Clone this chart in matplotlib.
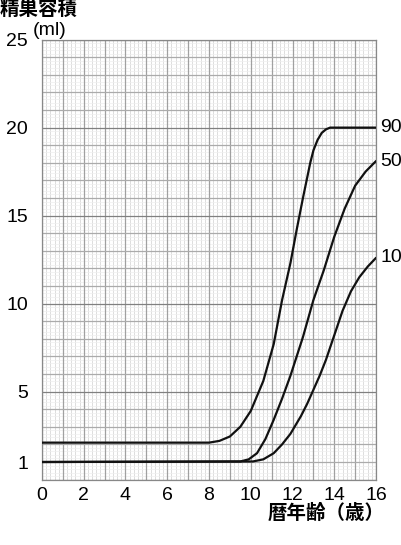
import numpy as np
import matplotlib
matplotlib.use("Agg")
import matplotlib.pyplot as plt

# percentile curves (age in years, volume in ml)
p90_age = [0, 8.0, 8.5, 9.0, 9.5, 10.0, 10.6, 11.1, 11.5, 11.9, 12.2, 12.5, 12.85, 13.0, 13.2, 13.4, 13.6, 13.8, 14.1, 16]
p90_vol = [2.1, 2.1, 2.2, 2.45, 3.0, 3.9, 5.6, 7.7, 10.2, 12.3, 14.2, 16.0, 18.0, 18.7, 19.3, 19.7, 19.9, 20.0, 20.0, 20.0]

p50_age = [0, 9.5, 9.9, 10.3, 10.7, 11.1, 11.5, 11.9, 12.5, 13.0, 13.5, 14.0, 14.5, 15.0, 15.5, 16]
p50_vol = [1.0, 1.03, 1.15, 1.5, 2.3, 3.4, 4.6, 5.9, 8.1, 10.2, 11.9, 13.8, 15.4, 16.7, 17.5, 18.1]

p10_age = [0, 10.1, 10.6, 11.1, 11.5, 11.9, 12.4, 12.7, 13.0, 13.3, 13.6, 14.0, 14.4, 14.8, 15.2, 15.6, 16]
p10_vol = [1.0, 1.03, 1.15, 1.5, 2.0, 2.6, 3.6, 4.3, 5.1, 5.9, 6.8, 8.2, 9.6, 10.7, 11.5, 12.1, 12.6]

curve_labels = ["90", "50", "10"]
x_ticks = [0, 2, 4, 6, 8, 10, 12, 14, 16]
y_ticks = [1, 5, 10, 15, 20, 25]

num_font = "Liberation Sans"
jp_font = ["Noto Sans CJK JP", "DejaVu Sans"]

fig = plt.figure(figsize=(4.01, 5.45), dpi=100)
ax = fig.add_axes([0.1047, 0.12, 0.833, 0.8073])

ax.set_xlim(0, 16)
ax.set_ylim(0, 25)

# graph paper grid
for x in np.arange(0, 16.01, 0.2):
    if abs(x - round(x)) > 1e-6:
        ax.axvline(x, color="#d8d8d8", lw=0.6, zorder=0)
for y in np.arange(0, 25.01, 0.2):
    if abs(y - round(y)) > 1e-6:
        ax.axhline(y, color="#efefef", lw=0.5, zorder=0)
for x in range(0, 17):
    ax.axvline(x, color="#a0a0a0", lw=0.9, zorder=1)
for y in range(0, 26):
    c = "#808080" if y % 5 == 0 else "#ababab"
    ax.axhline(y, color=c, lw=0.9, zorder=1)

for age, vol in [(p90_age, p90_vol), (p50_age, p50_vol), (p10_age, p10_vol)]:
    ax.plot(age, vol, color="#111111", lw=1.6, zorder=3,
            solid_capstyle="round", solid_joinstyle="round")

# curve labels at the right end
for lab, vol in zip(curve_labels, [p90_vol[-1], p50_vol[-1], p10_vol[-1]]):
    ax.text(16.2, vol, lab, fontsize=14, family=num_font, va="center", ha="left")

for s in ax.spines.values():
    s.set_color("#888888")
    s.set_linewidth(0.9)

ax.set_xticks(x_ticks)
ax.set_yticks(y_ticks)
ax.set_xticklabels([str(t) for t in x_ticks], fontsize=14, family=num_font)
ax.set_yticklabels([str(t) for t in y_ticks], fontsize=14, family=num_font)
ax.tick_params(axis="x", length=0, pad=5)
ax.tick_params(axis="y", length=0, pad=10)

fig.text(0.0, 0.982, "精巣容積", fontsize=14, family=jp_font, fontweight="bold", va="center", ha="left")
fig.text(0.082, 0.944, "(ml)", fontsize=14, family=num_font, va="center", ha="left")
fig.text(0.96, 0.058, "暦年齢（歳）", fontsize=14, family=jp_font, fontweight="bold", va="center", ha="right")

fig.savefig("out.png", dpi=100)
